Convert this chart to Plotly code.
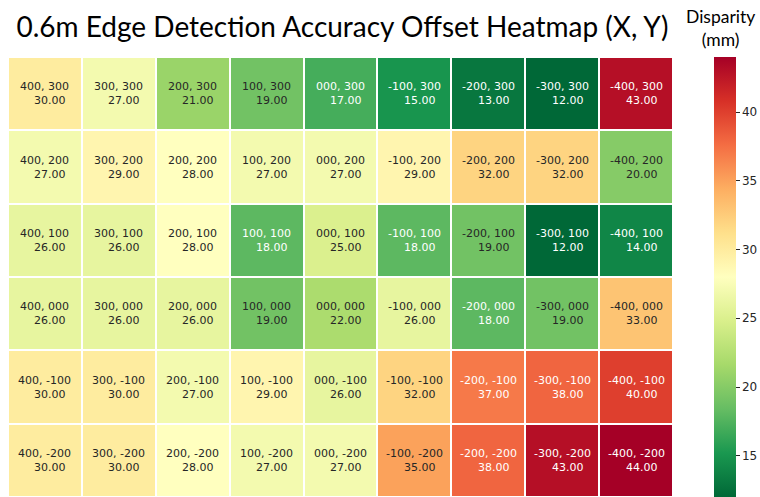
import plotly.graph_objects as go

x_labels = ["400", "300", "200", "100", "000", "-100", "-200", "-300", "-400"]
y_labels = ["300", "200", "100", "000", "-100", "-200"]

disparity = [
    [30, 27, 21, 19, 17, 15, 13, 12, 43],
    [27, 29, 28, 27, 27, 29, 32, 32, 20],
    [26, 26, 28, 18, 25, 18, 19, 12, 14],
    [26, 26, 26, 19, 22, 26, 18, 19, 33],
    [30, 30, 27, 29, 26, 32, 37, 38, 40],
    [30, 30, 28, 27, 27, 35, 38, 43, 44],
]

title_text = "0.6m Edge Detection Accuracy Offset Heatmap (X, Y)"
cbar_title = "Disparity<br>(mm)"
cbar_ticks = [15, 20, 25, 30, 35, 40]

W, H = 760, 497
L, R, T, B = 8, 87, 57, 0
pw = W - L - R

fig = go.Figure()
fig.add_trace(go.Heatmap(
    z=disparity, x=x_labels, y=y_labels,
    colorscale="RdYlGn_r", zmin=12, zmax=44,
    xgap=2, ygap=2,
    hoverinfo="skip",
    colorbar=dict(
        thickness=22, thicknessmode="pixels",
        len=1, lenmode="fraction", y=0.5, yanchor="middle", ypad=0,
        x=(714 - L) / pw, xanchor="left", xpad=0,
        outlinewidth=0,
        tickvals=cbar_ticks, ticks="outside", ticklen=4, tickwidth=1,
        tickcolor="#262626",
        tickfont=dict(family="DejaVu Sans", size=12, color="#262626"),
    ),
))

annotations = []
for i, yl in enumerate(y_labels):
    for j, xl in enumerate(x_labels):
        v = disparity[i][j]
        col = "#ffffff" if (v <= 18 or v >= 37) else "#262626"
        annotations.append(dict(
            x=j, y=i, xref="x", yref="y",
            text=f"{xl}, {yl}<br>\u00a0\u00a0\u00a0{v:.2f}",
            showarrow=False,
            font=dict(family="DejaVu Sans", size=11, color=col),
            align="center",
        ))

annotations.append(dict(
    x=(720 - L) / pw, y=1.0, xref="paper", yref="paper",
    xanchor="center", yanchor="bottom", yshift=5,
    text=cbar_title, showarrow=False,
    font=dict(family="Lato", size=17.5, color="#000000"),
    align="center",
))

fig.update_layout(
    width=W, height=H,
    margin=dict(l=L, r=R, t=T, b=B, pad=0, autoexpand=False),
    paper_bgcolor="white", plot_bgcolor="white",
    title=dict(
        text=title_text, x=(342.5 - L) / pw, xref="paper", xanchor="center",
        y=1 - 37 / H, yref="container", yanchor="bottom",
        font=dict(family="Lato", size=28, color="#000000"),
    ),
    xaxis=dict(visible=False, type="category", range=[-0.5, 8.5], fixedrange=True),
    yaxis=dict(visible=False, type="category", range=[5.5, -0.5], fixedrange=True),
    annotations=annotations,
)

fig.write_html(
    "out.html",
    config={"displayModeBar": False},
    post_script="document.body.style.margin='0';document.body.style.overflow='hidden';",
)
